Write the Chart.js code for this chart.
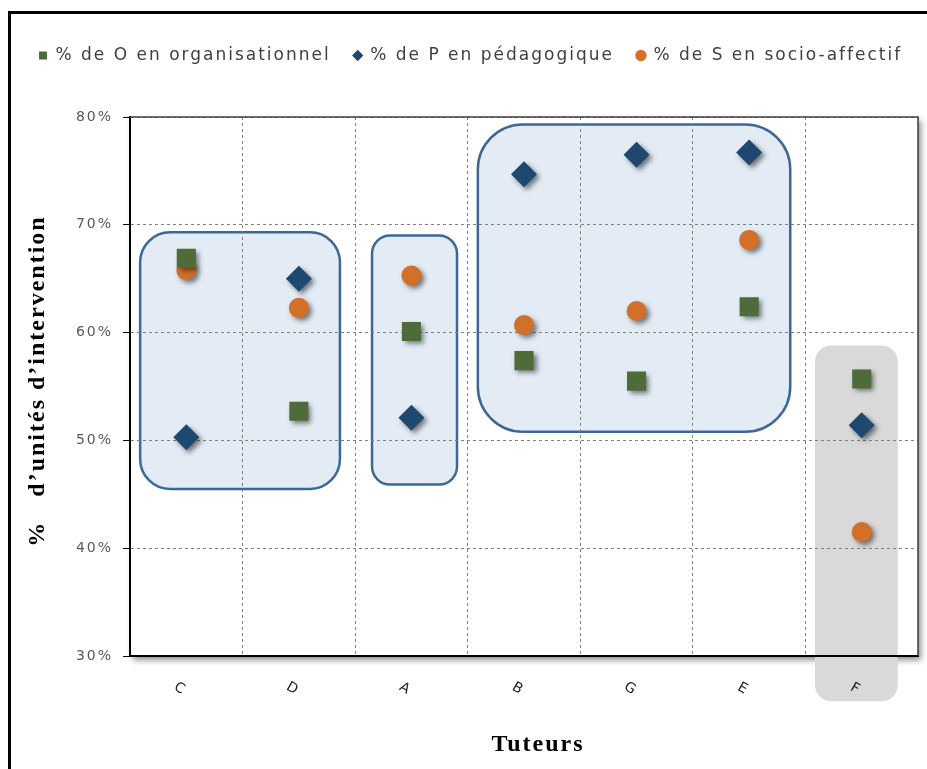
<!DOCTYPE html>
<html>
<head>
<meta charset="utf-8">
<script src="https://cdn.jsdelivr.net/npm/chart.js@4.4.0/dist/chart.umd.min.js"></script>
<style>
  html, body { margin: 0; padding: 0; background: #fff; }
  #wrap { width: 927px; height: 769px; position: relative; }
</style>
</head>
<body>
<div id="wrap"><canvas id="myChart"></canvas></div>
<script>
// data (%)
const tuteurs = ["C", "D", "A", "B", "G", "E", "F"];
const orgValues = [66.9, 52.7, 60.1, 57.4, 55.5, 62.4, 55.7];
const pedaValues = [50.3, 65.0, 52.1, 74.7, 76.5, 76.7, 51.4];
const socioValues = [65.8, 62.3, 65.3, 60.7, 62.0, 68.6, 41.5];
const yTicks = [30, 40, 50, 60, 70, 80];

// groups of tutors (category index range, value range)
const groupFrom = [-0.41, 1.65, 2.59, 5.585];
const groupTo = [1.365, 2.405, 5.365, 6.32];
const groupLow = [45.5, 45.9, 50.8, 25.8];
const groupHigh = [69.3, 69.0, 79.3, 58.8];
const groupRadius = [30, 18, 45, 16];
const groupFill = ["#e3ebf5", "#e3ebf5", "#e3ebf5", "#d9d9d9"];
const groupStroke = ["#3d6795", "#3d6795", "#3d6795", null];

const SPACING = "2px";

const decor = {
  id: "decor",
  beforeLayout(chart) {
    chart.ctx.letterSpacing = SPACING;
  },
  beforeDraw(chart) {
    const { ctx, chartArea: a, scales: { x, y } } = chart;
    ctx.save();
    // frame of the picture
    ctx.fillStyle = "#000";
    ctx.fillRect(8, 11, 3, chart.height);
    ctx.fillRect(8, 11, chart.width, 3);
    // plot area with its shadow
    ctx.shadowColor = "rgba(0,0,0,0.45)";
    ctx.shadowBlur = 6;
    ctx.shadowOffsetX = 3;
    ctx.shadowOffsetY = 4;
    ctx.fillStyle = "#fff";
    ctx.fillRect(a.left, a.top, a.width, a.height);
    ctx.restore();

    groupFrom.forEach((f, i) => {
      const l = x.getPixelForValue(f);
      const r = x.getPixelForValue(groupTo[i]);
      const t = y.getPixelForValue(groupHigh[i]);
      const b = y.getPixelForValue(groupLow[i]);
      ctx.save();
      ctx.beginPath();
      ctx.roundRect(l, t, r - l, b - t, groupRadius[i]);
      ctx.fillStyle = groupFill[i];
      ctx.fill();
      if (groupStroke[i]) {
        ctx.lineWidth = 2.5;
        ctx.strokeStyle = groupStroke[i];
        ctx.stroke();
      }
      ctx.restore();
    });
    ctx.letterSpacing = SPACING;
  },
  beforeDatasetsDraw(chart) {
    const c = chart.ctx;
    c.save();
    c.shadowColor = "rgba(0,0,0,0.5)";
    c.shadowBlur = 5;
    c.shadowOffsetX = 3;
    c.shadowOffsetY = 3;
  },
  afterDatasetsDraw(chart) {
    chart.ctx.restore();
  },
  afterDraw(chart) {
    const { ctx, chartArea: a, scales: { x } } = chart;
    ctx.save();
    ctx.letterSpacing = SPACING;
    // border of the plot
    ctx.strokeStyle = "#404040";
    ctx.lineWidth = 1.5;
    ctx.beginPath();
    ctx.moveTo(a.left, a.top);
    ctx.lineTo(a.right, a.top);
    ctx.lineTo(a.right, a.bottom);
    ctx.stroke();

    // category labels, tilted
    ctx.fillStyle = "#222";
    ctx.font = "14px 'DejaVu Sans'";
    ctx.textAlign = "center";
    ctx.textBaseline = "middle";
    tuteurs.forEach((t, i) => {
      ctx.save();
      ctx.translate(x.getPixelForValue(i) - 6, a.bottom + 33);
      ctx.rotate(Math.PI / 6);
      ctx.fillText(t, 0, 0);
      ctx.restore();
    });

    // axis titles
    ctx.fillStyle = "#000";
    ctx.font = "bold 24px 'Liberation Serif'";
    ctx.fillText("Tuteurs", (a.left + a.right) / 2 + 14, 745);
    ctx.save();
    ctx.translate(38, 381);
    ctx.rotate(-Math.PI / 2);
    ctx.fillText("%   d\u2019unités d\u2019intervention", 0, 0);
    ctx.restore();
    ctx.restore();
  }
};

const ctx = document.getElementById("myChart");

new Chart(ctx, {
  type: "line",
  data: {
    labels: tuteurs,
    datasets: [
      {
        label: "% de O en organisationnel",
        data: orgValues,
        pointStyle: "rect",
        pointRadius: 13.5,
        backgroundColor: "#4f6b38",
        borderColor: "#4f6b38",
        pointBorderWidth: 0,
        showLine: false,
      },
      {
        label: "% de P en pédagogique",
        data: pedaValues,
        pointStyle: "rectRot",
        pointRadius: 13,
        backgroundColor: "#1f4870",
        borderColor: "#1f4870",
        pointBorderWidth: 0,
        showLine: false,
      },
      {
        label: "% de S en socio-affectif",
        data: socioValues,
        pointStyle: "circle",
        pointRadius: 10,
        backgroundColor: "#d2702a",
        borderColor: "#d2702a",
        pointBorderWidth: 0,
        showLine: false,
      },
    ],
  },
  options: {
    responsive: true,
    maintainAspectRatio: false,
    animation: false,
    layout: { autoPadding: false, padding: { top: 24, left: 16, right: 0, bottom: 0 } },
    plugins: {
      legend: {
        position: "top",
        align: "start",
        labels: {
          usePointStyle: true,
          boxWidth: 8,
          boxHeight: 8,
          padding: 23,
          color: "#404040",
          font: { family: "'DejaVu Sans'", size: 17 },
        },
      },
      title: {
        display: true,
        text: "",
        weight: 500,
        font: { size: 10, lineHeight: 1 },
        padding: { top: 0, bottom: 33 },
      },
      tooltip: { enabled: false },
    },
    scales: {
      x: {
        offset: true,
        grid: { offset: true, color: "#7f7f7f", drawTicks: false },
        border: { display: true, color: "#000", width: 2, dash: [3, 3] },
        ticks: { display: false },
        afterFit(s) { s.height = 113; },
      },
      y: {
        min: 30,
        max: 80,
        afterBuildTicks(s) { s.ticks = yTicks.map(v => ({ value: v })); },
        grid: { color: "#7f7f7f", tickLength: 7, tickColor: "#000", tickBorderDash: [] },
        border: { display: true, color: "#000", width: 2, dash: [3, 3] },
        ticks: {
          color: "#595959",
          padding: 10,
          font: { family: "'DejaVu Sans'", size: 14 },
          callback: v => v + "%",
        },
        afterFit(s) { s.width = 114; },
      },
      // empty right strip keeping the plot off the edge
      side: {
        position: "right",
        grid: { display: false },
        border: { display: false },
        ticks: { display: false },
        afterFit(s) { s.width = 9; },
      },
    },
  },
  plugins: [decor],
});
</script>
</body>
</html>
